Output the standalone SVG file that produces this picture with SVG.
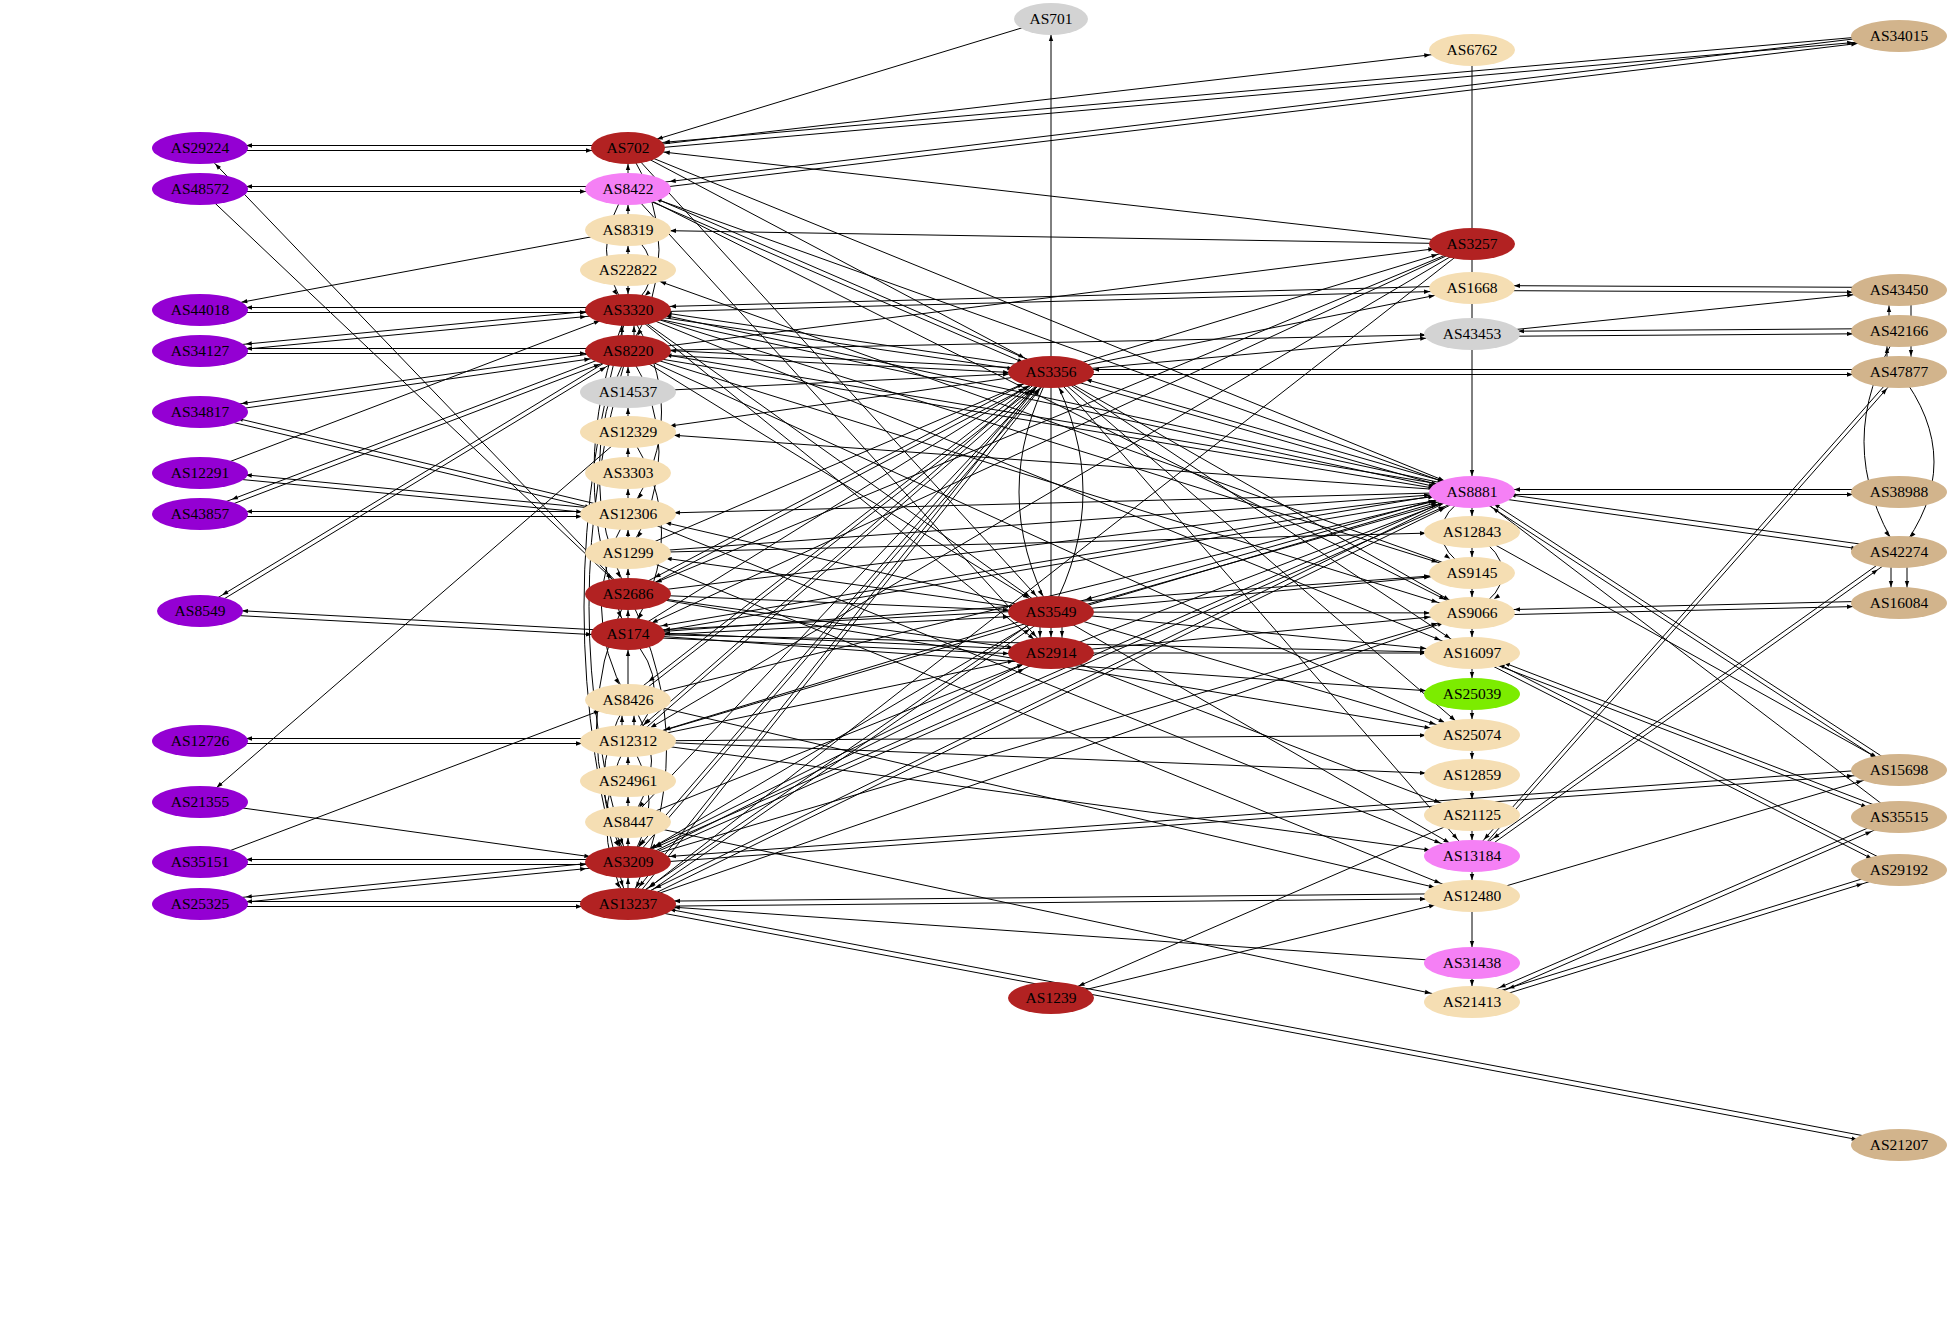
<svg xmlns="http://www.w3.org/2000/svg" width="1950" height="1338" viewBox="0 0 1950 1338">
<style>
.e line,.e path{fill:none;stroke:#000;stroke-width:1}
.m16{marker-end:url(#m16)}.m18{marker-end:url(#m18)}.m22{marker-end:url(#m22)}.m26{marker-end:url(#m26)}.m30{marker-end:url(#m30)}.m34{marker-end:url(#m34)}.m36{marker-end:url(#m36)}.m38{marker-end:url(#m38)}.m42{marker-end:url(#m42)}.m46{marker-end:url(#m46)}
.n text{font-family:"Liberation Serif","Times New Roman",serif;font-size:15.5px;text-anchor:middle;fill:#000}
.red{fill:#B22222}.pur{fill:#9400D3}.pink{fill:#F580F5}.wh{fill:#F5DEB3}.tan{fill:#D2B48C}.gry{fill:#D3D3D3}.grn{fill:#7CEC00}
</style>
<defs>
<marker id="m16" markerUnits="userSpaceOnUse" markerWidth="8" markerHeight="8" refX="22" refY="0" orient="auto" overflow="visible"><path d="M0,-2.2L6,0L0,2.2z" fill="#000"/></marker>
<marker id="m18" markerUnits="userSpaceOnUse" markerWidth="8" markerHeight="8" refX="24" refY="0" orient="auto" overflow="visible"><path d="M0,-2.2L6,0L0,2.2z" fill="#000"/></marker>
<marker id="m22" markerUnits="userSpaceOnUse" markerWidth="8" markerHeight="8" refX="28" refY="0" orient="auto" overflow="visible"><path d="M0,-2.2L6,0L0,2.2z" fill="#000"/></marker>
<marker id="m26" markerUnits="userSpaceOnUse" markerWidth="8" markerHeight="8" refX="32" refY="0" orient="auto" overflow="visible"><path d="M0,-2.2L6,0L0,2.2z" fill="#000"/></marker>
<marker id="m30" markerUnits="userSpaceOnUse" markerWidth="8" markerHeight="8" refX="36" refY="0" orient="auto" overflow="visible"><path d="M0,-2.2L6,0L0,2.2z" fill="#000"/></marker>
<marker id="m34" markerUnits="userSpaceOnUse" markerWidth="8" markerHeight="8" refX="40" refY="0" orient="auto" overflow="visible"><path d="M0,-2.2L6,0L0,2.2z" fill="#000"/></marker>
<marker id="m36" markerUnits="userSpaceOnUse" markerWidth="8" markerHeight="8" refX="42" refY="0" orient="auto" overflow="visible"><path d="M0,-2.2L6,0L0,2.2z" fill="#000"/></marker>
<marker id="m38" markerUnits="userSpaceOnUse" markerWidth="8" markerHeight="8" refX="44" refY="0" orient="auto" overflow="visible"><path d="M0,-2.2L6,0L0,2.2z" fill="#000"/></marker>
<marker id="m42" markerUnits="userSpaceOnUse" markerWidth="8" markerHeight="8" refX="48" refY="0" orient="auto" overflow="visible"><path d="M0,-2.2L6,0L0,2.2z" fill="#000"/></marker>
<marker id="m46" markerUnits="userSpaceOnUse" markerWidth="8" markerHeight="8" refX="52" refY="0" orient="auto" overflow="visible"><path d="M0,-2.2L6,0L0,2.2z" fill="#000"/></marker>
</defs>
<rect width="1950" height="1338" fill="#fff"/>
<g id="edges" class="e">
<line x1="628" y1="145.5" x2="200" y2="145.5" class="m46"/><line x1="200" y1="150.5" x2="628" y2="150.5" class="m36"/>
<line x1="628" y1="186.5" x2="200" y2="186.5" class="m46"/><line x1="200" y1="191.5" x2="628" y2="191.5" class="m42"/>
<line x1="628" y1="594" x2="200" y2="148" class="m22"/>
<line x1="200" y1="189" x2="628" y2="594" class="m22"/>
<line x1="628" y1="307.5" x2="200" y2="307.5" class="m46"/><line x1="200" y1="312.5" x2="628" y2="312.5" class="m42"/>
<line x1="628" y1="230" x2="200" y2="310" class="m42"/>
<line x1="628" y1="307.5" x2="200" y2="348.5" class="m46"/><line x1="200" y1="353.5" x2="628" y2="312.5" class="m42"/>
<line x1="628" y1="348.5" x2="200" y2="348.5" class="m46"/><line x1="200" y1="353.5" x2="628" y2="353.5" class="m42"/>
<line x1="628" y1="348.5" x2="200" y2="409.5" class="m42"/><line x1="200" y1="414.5" x2="628" y2="353.5" class="m38"/>
<line x1="628" y1="511.5" x2="200" y2="409.5" class="m38"/><line x1="200" y1="414.5" x2="628" y2="516.5" class="m38"/>
<line x1="628" y1="511.5" x2="200" y2="470.5" class="m46"/><line x1="200" y1="475.5" x2="628" y2="516.5" class="m46"/>
<line x1="200" y1="473" x2="628" y2="310" class="m30"/>
<line x1="628" y1="511.5" x2="200" y2="511.5" class="m46"/><line x1="200" y1="516.5" x2="628" y2="516.5" class="m46"/>
<line x1="628" y1="348.5" x2="200" y2="511.5" class="m34"/><line x1="200" y1="516.5" x2="628" y2="353.5" class="m30"/>
<line x1="628" y1="631.5" x2="200" y2="608.5" class="m42"/><line x1="200" y1="613.5" x2="628" y2="636.5" class="m36"/>
<line x1="628" y1="348.5" x2="200" y2="608.5" class="m26"/><line x1="200" y1="613.5" x2="628" y2="353.5" class="m26"/>
<line x1="628" y1="738.5" x2="200" y2="738.5" class="m46"/><line x1="200" y1="743.5" x2="628" y2="743.5" class="m46"/>
<line x1="628" y1="432" x2="200" y2="802" class="m22"/>
<line x1="200" y1="802" x2="628" y2="862" class="m38"/>
<line x1="628" y1="859.5" x2="200" y2="859.5" class="m46"/><line x1="200" y1="864.5" x2="628" y2="864.5" class="m42"/>
<line x1="200" y1="862" x2="628" y2="700" class="m30"/>
<line x1="628" y1="859.5" x2="200" y2="901.5" class="m46"/><line x1="200" y1="906.5" x2="628" y2="864.5" class="m42"/>
<line x1="628" y1="901.5" x2="200" y2="901.5" class="m46"/><line x1="200" y1="906.5" x2="628" y2="906.5" class="m46"/>
<line x1="1051" y1="19" x2="628" y2="148" class="m30"/>
<line x1="1051" y1="612" x2="1051" y2="19" class="m16"/>
<line x1="628" y1="148" x2="1472" y2="50" class="m42"/>
<line x1="1899" y1="33.5" x2="628" y2="145.5" class="m36"/><line x1="628" y1="150.5" x2="1899" y2="38.5" class="m46"/>
<line x1="1899" y1="33.5" x2="628" y2="186.5" class="m42"/><line x1="628" y1="191.5" x2="1899" y2="38.5" class="m42"/>
<line x1="1472" y1="244" x2="628" y2="148" class="m36"/>
<line x1="1472" y1="244" x2="628" y2="230" class="m42"/>
<line x1="628" y1="351" x2="1472" y2="244" class="m38"/>
<line x1="1472" y1="50" x2="1472" y2="492" class="m16"/>
<line x1="1472" y1="244" x2="628" y2="594" class="m30"/>
<line x1="1472" y1="244" x2="628" y2="741" class="m26"/>
<line x1="1472" y1="244" x2="628" y2="904" class="m26"/>
<line x1="1472" y1="244" x2="628" y2="634" class="m26"/>
<line x1="1051" y1="372" x2="1472" y2="244" class="m36"/>
<line x1="628" y1="148" x2="1051" y2="372" class="m30"/>
<line x1="1051" y1="369.5" x2="628" y2="186.5" class="m30"/><line x1="628" y1="191.5" x2="1051" y2="374.5" class="m30"/>
<line x1="1051" y1="369.5" x2="628" y2="307.5" class="m38"/><line x1="628" y1="312.5" x2="1051" y2="374.5" class="m38"/>
<line x1="1051" y1="369.5" x2="628" y2="348.5" class="m42"/><line x1="628" y1="353.5" x2="1051" y2="374.5" class="m42"/>
<line x1="628" y1="392" x2="1051" y2="372" class="m42"/>
<line x1="1051" y1="372" x2="628" y2="432" class="m42"/>
<line x1="628" y1="553" x2="1051" y2="372" class="m30"/>
<line x1="1051" y1="369.5" x2="628" y2="591.5" class="m30"/><line x1="628" y1="596.5" x2="1051" y2="374.5" class="m30"/>
<line x1="628" y1="634" x2="1051" y2="372" class="m26"/>
<line x1="1051" y1="369.5" x2="628" y2="697.5" class="m26"/><line x1="628" y1="702.5" x2="1051" y2="374.5" class="m26"/>
<line x1="1051" y1="369.5" x2="628" y2="738.5" class="m22"/><line x1="628" y1="743.5" x2="1051" y2="374.5" class="m22"/>
<line x1="628" y1="822" x2="1051" y2="372" class="m22"/>
<line x1="1048.5" y1="372" x2="625.5" y2="862" class="m22"/><line x1="630.5" y1="862" x2="1053.5" y2="372" class="m22"/>
<line x1="1048.5" y1="372" x2="625.5" y2="904" class="m22"/><line x1="630.5" y1="904" x2="1053.5" y2="372" class="m22"/>
<line x1="1899" y1="369.5" x2="1051" y2="369.5" class="m42"/><line x1="1051" y1="374.5" x2="1899" y2="374.5" class="m46"/>
<line x1="1051" y1="372" x2="1472" y2="288" class="m38"/>
<line x1="1051" y1="372" x2="1472" y2="334" class="m46"/>
<line x1="1472" y1="489.5" x2="1051" y2="369.5" class="m36"/><line x1="1051" y1="374.5" x2="1472" y2="494.5" class="m36"/>
<line x1="1051" y1="372" x2="1472" y2="613" class="m26"/>
<line x1="1051" y1="372" x2="1472" y2="653" class="m26"/>
<line x1="1051" y1="372" x2="1472" y2="735" class="m22"/>
<line x1="1051" y1="372" x2="1472" y2="856" class="m22"/>
<path d="M1051,372 Q987,492 1051,612" class="m18"/><path d="M1051,612 Q1115,492 1051,372" class="m18"/>
<line x1="628" y1="189" x2="1472" y2="492" class="m30"/>
<line x1="1472" y1="489.5" x2="628" y2="307.5" class="m38"/><line x1="628" y1="312.5" x2="1472" y2="494.5" class="m38"/>
<line x1="1472" y1="489.5" x2="628" y2="348.5" class="m38"/><line x1="628" y1="353.5" x2="1472" y2="494.5" class="m38"/>
<line x1="1472" y1="492" x2="628" y2="432" class="m46"/>
<line x1="1472" y1="492" x2="628" y2="514" class="m46"/>
<line x1="628" y1="553" x2="1472" y2="492" class="m42"/>
<line x1="628" y1="594" x2="1472" y2="492" class="m38"/>
<line x1="1472" y1="489.5" x2="628" y2="631.5" class="m34"/><line x1="628" y1="636.5" x2="1472" y2="494.5" class="m38"/>
<line x1="1472" y1="489.5" x2="1051" y2="609.5" class="m36"/><line x1="1051" y1="614.5" x2="1472" y2="494.5" class="m36"/>
<line x1="1051" y1="653" x2="1472" y2="492" class="m30"/>
<line x1="628" y1="700" x2="1472" y2="492" class="m36"/>
<line x1="628" y1="741" x2="1472" y2="492" class="m36"/>
<line x1="1472" y1="489.5" x2="628" y2="859.5" class="m30"/><line x1="628" y1="864.5" x2="1472" y2="494.5" class="m30"/>
<line x1="1472" y1="489.5" x2="628" y2="901.5" class="m30"/><line x1="628" y1="906.5" x2="1472" y2="494.5" class="m30"/>
<line x1="1899" y1="489.5" x2="1472" y2="489.5" class="m42"/><line x1="1472" y1="494.5" x2="1899" y2="494.5" class="m46"/>
<line x1="1899" y1="549.5" x2="1472" y2="489.5" class="m38"/><line x1="1472" y1="494.5" x2="1899" y2="554.5" class="m42"/>
<line x1="1899" y1="767.5" x2="1472" y2="489.5" class="m26"/><line x1="1472" y1="494.5" x2="1899" y2="772.5" class="m26"/>
<line x1="628" y1="148" x2="1472" y2="492" class="m30"/>
<line x1="1899" y1="817" x2="1472" y2="492" class="m26"/>
<line x1="1472" y1="492" x2="1472" y2="532" class="m16"/>
<line x1="1472" y1="532" x2="1472" y2="573" class="m16"/>
<line x1="1472" y1="573" x2="1472" y2="613" class="m16"/>
<line x1="1472" y1="613" x2="1472" y2="653" class="m16"/>
<line x1="1472" y1="653" x2="1472" y2="694" class="m16"/>
<line x1="1472" y1="694" x2="1472" y2="735" class="m16"/>
<line x1="1472" y1="735" x2="1472" y2="775" class="m16"/>
<line x1="1472" y1="775" x2="1472" y2="815" class="m16"/>
<line x1="1472" y1="815" x2="1472" y2="856" class="m16"/>
<line x1="1472" y1="856" x2="1472" y2="896" class="m16"/>
<line x1="1472" y1="896" x2="1472" y2="963" class="m16"/>
<line x1="1472" y1="963" x2="1472" y2="1002" class="m16"/>
<path d="M1472,492 Q1410,532 1472,573" class="m26"/>
<path d="M1472,532 Q1534,573 1472,613" class="m26"/>
<line x1="628" y1="189" x2="628" y2="148" class="m16"/>
<line x1="628" y1="230" x2="628" y2="189" class="m16"/>
<line x1="628" y1="270" x2="628" y2="230" class="m16"/>
<line x1="628" y1="270" x2="628" y2="310" class="m16"/>
<line x1="622" y1="351" x2="622" y2="310" class="m16"/>
<line x1="634" y1="351" x2="634" y2="310" class="m16"/>
<line x1="628" y1="392" x2="628" y2="351" class="m16"/>
<line x1="628" y1="432" x2="628" y2="392" class="m16"/>
<line x1="628" y1="473" x2="628" y2="432" class="m16"/>
<line x1="628" y1="514" x2="628" y2="473" class="m16"/>
<line x1="628" y1="553" x2="628" y2="514" class="m16"/>
<line x1="628" y1="594" x2="628" y2="553" class="m16"/>
<line x1="628" y1="634" x2="628" y2="594" class="m16"/>
<line x1="628" y1="700" x2="628" y2="634" class="m16"/>
<line x1="622" y1="741" x2="622" y2="700" class="m16"/>
<line x1="634" y1="741" x2="634" y2="700" class="m16"/>
<line x1="628" y1="781" x2="628" y2="741" class="m16"/>
<line x1="628" y1="822" x2="628" y2="781" class="m16"/>
<line x1="628" y1="862" x2="628" y2="822" class="m16"/>
<line x1="628" y1="904" x2="628" y2="862" class="m16"/>
<path d="M628,189 Q585,250 628,310" class="m18"/>
<path d="M628,310 Q560,472 628,634" class="m18"/>
<path d="M628,351 Q570,472 628,594" class="m18"/>
<path d="M628,351 Q550,606 628,862" class="m18"/>
<path d="M628,310 Q540,607 628,904" class="m18"/>
<path d="M628,514 Q575,607 628,700" class="m18"/>
<path d="M628,594 Q565,728 628,862" class="m18"/>
<path d="M628,741 Q585,822 628,904" class="m18"/>
<path d="M628,700 Q580,781 628,862" class="m18"/>
<path d="M628,148 Q690,250 628,351" class="m18"/>
<path d="M628,230 Q675,270 628,310" class="m22"/>
<path d="M628,310 Q695,412 628,514" class="m18"/>
<path d="M628,351 Q690,452 628,553" class="m18"/>
<path d="M628,432 Q695,533 628,634" class="m18"/>
<path d="M628,634 Q680,688 628,741" class="m22"/>
<path d="M628,594 Q705,749 628,904" class="m18"/>
<path d="M628,700 Q675,761 628,822" class="m18"/>
<path d="M628,741 Q670,802 628,862" class="m18"/>
<line x1="1472" y1="285.5" x2="628" y2="307.5" class="m42"/><line x1="628" y1="312.5" x2="1472" y2="290.5" class="m42"/>
<line x1="628" y1="351" x2="1472" y2="334" class="m46"/>
<line x1="628" y1="553" x2="1472" y2="532" class="m46"/>
<line x1="628" y1="310" x2="1472" y2="573" class="m36"/>
<line x1="628" y1="634" x2="1472" y2="573" class="m42"/>
<line x1="628" y1="862" x2="1472" y2="613" class="m36"/>
<line x1="628" y1="904" x2="1472" y2="613" class="m30"/>
<line x1="628" y1="351" x2="1472" y2="613" class="m36"/>
<line x1="628" y1="634" x2="1472" y2="653" class="m46"/>
<line x1="628" y1="634" x2="1472" y2="694" class="m46"/>
<line x1="628" y1="741" x2="1472" y2="735" class="m46"/>
<line x1="628" y1="741" x2="1472" y2="775" class="m46"/>
<line x1="628" y1="741" x2="1472" y2="856" class="m42"/>
<line x1="628" y1="700" x2="1472" y2="896" class="m38"/>
<line x1="1472" y1="893.5" x2="628" y2="901.5" class="m46"/><line x1="628" y1="906.5" x2="1472" y2="898.5" class="m46"/>
<line x1="628" y1="822" x2="1472" y2="1002" class="m42"/>
<line x1="1472" y1="963" x2="628" y2="904" class="m46"/>
<line x1="1899" y1="1142.5" x2="628" y2="901.5" class="m42"/><line x1="628" y1="906.5" x2="1899" y2="1147.5" class="m42"/>
<line x1="1472" y1="815" x2="1051" y2="998" class="m30"/>
<line x1="1051" y1="998" x2="1472" y2="896" class="m38"/>
<line x1="628" y1="148" x2="1051" y2="612" class="m22"/>
<line x1="1051" y1="609.5" x2="628" y2="631.5" class="m36"/><line x1="628" y1="636.5" x2="1051" y2="614.5" class="m42"/>
<line x1="628" y1="594" x2="1051" y2="612" class="m42"/>
<line x1="1051" y1="612" x2="628" y2="514" class="m38"/>
<line x1="1051" y1="612" x2="628" y2="553" class="m38"/>
<line x1="628" y1="351" x2="1051" y2="612" class="m26"/>
<line x1="628" y1="310" x2="1051" y2="612" class="m26"/>
<line x1="1051" y1="612" x2="628" y2="741" class="m38"/>
<line x1="1051" y1="609.5" x2="628" y2="901.5" class="m26"/><line x1="628" y1="906.5" x2="1051" y2="614.5" class="m26"/>
<line x1="1051" y1="612" x2="628" y2="862" class="m26"/>
<line x1="1051" y1="612" x2="1472" y2="573" class="m42"/>
<line x1="1051" y1="612" x2="1472" y2="613" class="m42"/>
<line x1="1051" y1="612" x2="1472" y2="653" class="m46"/>
<line x1="1051" y1="612" x2="1472" y2="735" class="m38"/>
<line x1="1051" y1="612" x2="1472" y2="856" class="m26"/>
<line x1="1051" y1="612" x2="1051" y2="653" class="m16"/>
<line x1="1040" y1="612" x2="1040" y2="653" class="m16"/>
<line x1="1062" y1="612" x2="1062" y2="653" class="m16"/>
<line x1="1051" y1="650.5" x2="628" y2="631.5" class="m36"/><line x1="628" y1="636.5" x2="1051" y2="655.5" class="m42"/>
<line x1="628" y1="594" x2="1051" y2="653" class="m38"/>
<line x1="628" y1="189" x2="1051" y2="653" class="m22"/>
<line x1="628" y1="310" x2="1051" y2="653" class="m22"/>
<line x1="628" y1="741" x2="1051" y2="653" class="m38"/>
<line x1="1051" y1="650.5" x2="628" y2="859.5" class="m30"/><line x1="628" y1="864.5" x2="1051" y2="655.5" class="m30"/>
<line x1="1051" y1="653" x2="1472" y2="613" class="m42"/>
<line x1="1051" y1="653" x2="1472" y2="653" class="m46"/>
<line x1="1051" y1="653" x2="1472" y2="815" class="m34"/>
<line x1="628" y1="822" x2="1051" y2="653" class="m30"/>
<line x1="1899" y1="287.5" x2="1472" y2="285.5" class="m42"/><line x1="1472" y1="290.5" x2="1899" y2="292.5" class="m46"/>
<line x1="1472" y1="334" x2="1899" y2="290" class="m46"/>
<line x1="1899" y1="328.5" x2="1472" y2="331.5" class="m46"/><line x1="1472" y1="336.5" x2="1899" y2="333.5" class="m46"/>
<line x1="1889" y1="331" x2="1889" y2="290" class="m16"/>
<line x1="1887" y1="372" x2="1887" y2="331" class="m16"/>
<line x1="1911" y1="290" x2="1911" y2="372" class="m16"/>
<path d="M1899,331 Q1829,442 1899,552" class="m18"/>
<path d="M1899,372 Q1969,462 1899,552" class="m18"/>
<line x1="1891" y1="552" x2="1891" y2="603" class="m16"/>
<line x1="1907" y1="552" x2="1907" y2="603" class="m16"/>
<line x1="1899" y1="600.5" x2="1472" y2="610.5" class="m42"/><line x1="1472" y1="615.5" x2="1899" y2="605.5" class="m46"/>
<line x1="1899" y1="814.5" x2="1472" y2="650.5" class="m34"/><line x1="1472" y1="655.5" x2="1899" y2="819.5" class="m34"/>
<line x1="1899" y1="867.5" x2="1472" y2="650.5" class="m30"/><line x1="1472" y1="655.5" x2="1899" y2="872.5" class="m30"/>
<line x1="1472" y1="532" x2="1899" y2="770" class="m26"/>
<line x1="1472" y1="896" x2="1899" y2="770" class="m38"/>
<line x1="1899" y1="814.5" x2="1472" y2="999.5" class="m30"/><line x1="1472" y1="1004.5" x2="1899" y2="819.5" class="m30"/>
<line x1="1899" y1="867.5" x2="1472" y2="999.5" class="m38"/><line x1="1472" y1="1004.5" x2="1899" y2="872.5" class="m38"/>
<line x1="1896.5" y1="372" x2="1469.5" y2="856" class="m22"/><line x1="1474.5" y1="856" x2="1901.5" y2="372" class="m22"/>
<line x1="1899" y1="549.5" x2="1472" y2="853.5" class="m26"/><line x1="1472" y1="858.5" x2="1899" y2="554.5" class="m26"/>
<line x1="1899" y1="767.5" x2="628" y2="859.5" class="m42"/><line x1="628" y1="864.5" x2="1899" y2="772.5" class="m46"/>
<line x1="628" y1="189" x2="1472" y2="613" class="m30"/>
<line x1="628" y1="310" x2="1472" y2="653" class="m34"/>
<line x1="628" y1="351" x2="1472" y2="735" class="m30"/>
<line x1="1472" y1="573" x2="628" y2="270" class="m34"/>
<line x1="628" y1="594" x2="1472" y2="735" class="m42"/>
<line x1="628" y1="514" x2="1472" y2="856" class="m34"/>
<line x1="628" y1="553" x2="1472" y2="896" class="m34"/>
</g>
<g id="AS29224" class="n"><ellipse cx="200" cy="148" rx="48" ry="16" class="pur"/><text x="200" y="153">AS29224</text></g>
<g id="AS48572" class="n"><ellipse cx="200" cy="189" rx="48" ry="16" class="pur"/><text x="200" y="194">AS48572</text></g>
<g id="AS44018" class="n"><ellipse cx="200" cy="310" rx="48" ry="16" class="pur"/><text x="200" y="315">AS44018</text></g>
<g id="AS34127" class="n"><ellipse cx="200" cy="351" rx="48" ry="16" class="pur"/><text x="200" y="356">AS34127</text></g>
<g id="AS34817" class="n"><ellipse cx="200" cy="412" rx="48" ry="16" class="pur"/><text x="200" y="417">AS34817</text></g>
<g id="AS12291" class="n"><ellipse cx="200" cy="473" rx="48" ry="16" class="pur"/><text x="200" y="478">AS12291</text></g>
<g id="AS43857" class="n"><ellipse cx="200" cy="514" rx="48" ry="16" class="pur"/><text x="200" y="519">AS43857</text></g>
<g id="AS8549" class="n"><ellipse cx="200" cy="611" rx="43" ry="16" class="pur"/><text x="200" y="616">AS8549</text></g>
<g id="AS12726" class="n"><ellipse cx="200" cy="741" rx="48" ry="16" class="pur"/><text x="200" y="746">AS12726</text></g>
<g id="AS21355" class="n"><ellipse cx="200" cy="802" rx="48" ry="16" class="pur"/><text x="200" y="807">AS21355</text></g>
<g id="AS35151" class="n"><ellipse cx="200" cy="862" rx="48" ry="16" class="pur"/><text x="200" y="867">AS35151</text></g>
<g id="AS25325" class="n"><ellipse cx="200" cy="904" rx="48" ry="16" class="pur"/><text x="200" y="909">AS25325</text></g>
<g id="AS702" class="n"><ellipse cx="628" cy="148" rx="37" ry="16" class="red"/><text x="628" y="153">AS702</text></g>
<g id="AS8422" class="n"><ellipse cx="628" cy="189" rx="43" ry="16" class="pink"/><text x="628" y="194">AS8422</text></g>
<g id="AS8319" class="n"><ellipse cx="628" cy="230" rx="43" ry="16" class="wh"/><text x="628" y="235">AS8319</text></g>
<g id="AS22822" class="n"><ellipse cx="628" cy="270" rx="48" ry="16" class="wh"/><text x="628" y="275">AS22822</text></g>
<g id="AS3320" class="n"><ellipse cx="628" cy="310" rx="43" ry="16" class="red"/><text x="628" y="315">AS3320</text></g>
<g id="AS8220" class="n"><ellipse cx="628" cy="351" rx="43" ry="16" class="red"/><text x="628" y="356">AS8220</text></g>
<g id="AS14537" class="n"><ellipse cx="628" cy="392" rx="48" ry="16" class="gry"/><text x="628" y="397">AS14537</text></g>
<g id="AS12329" class="n"><ellipse cx="628" cy="432" rx="48" ry="16" class="wh"/><text x="628" y="437">AS12329</text></g>
<g id="AS3303" class="n"><ellipse cx="628" cy="473" rx="43" ry="16" class="wh"/><text x="628" y="478">AS3303</text></g>
<g id="AS12306" class="n"><ellipse cx="628" cy="514" rx="48" ry="16" class="wh"/><text x="628" y="519">AS12306</text></g>
<g id="AS1299" class="n"><ellipse cx="628" cy="553" rx="43" ry="16" class="wh"/><text x="628" y="558">AS1299</text></g>
<g id="AS2686" class="n"><ellipse cx="628" cy="594" rx="43" ry="16" class="red"/><text x="628" y="599">AS2686</text></g>
<g id="AS174" class="n"><ellipse cx="628" cy="634" rx="37" ry="16" class="red"/><text x="628" y="639">AS174</text></g>
<g id="AS8426" class="n"><ellipse cx="628" cy="700" rx="43" ry="16" class="wh"/><text x="628" y="705">AS8426</text></g>
<g id="AS12312" class="n"><ellipse cx="628" cy="741" rx="48" ry="16" class="wh"/><text x="628" y="746">AS12312</text></g>
<g id="AS24961" class="n"><ellipse cx="628" cy="781" rx="48" ry="16" class="wh"/><text x="628" y="786">AS24961</text></g>
<g id="AS8447" class="n"><ellipse cx="628" cy="822" rx="43" ry="16" class="wh"/><text x="628" y="827">AS8447</text></g>
<g id="AS3209" class="n"><ellipse cx="628" cy="862" rx="43" ry="16" class="red"/><text x="628" y="867">AS3209</text></g>
<g id="AS13237" class="n"><ellipse cx="628" cy="904" rx="48" ry="16" class="red"/><text x="628" y="909">AS13237</text></g>
<g id="AS701" class="n"><ellipse cx="1051" cy="19" rx="37" ry="16" class="gry"/><text x="1051" y="24">AS701</text></g>
<g id="AS3356" class="n"><ellipse cx="1051" cy="372" rx="43" ry="16" class="red"/><text x="1051" y="377">AS3356</text></g>
<g id="AS3549" class="n"><ellipse cx="1051" cy="612" rx="43" ry="16" class="red"/><text x="1051" y="617">AS3549</text></g>
<g id="AS2914" class="n"><ellipse cx="1051" cy="653" rx="43" ry="16" class="red"/><text x="1051" y="658">AS2914</text></g>
<g id="AS1239" class="n"><ellipse cx="1051" cy="998" rx="43" ry="16" class="red"/><text x="1051" y="1003">AS1239</text></g>
<g id="AS6762" class="n"><ellipse cx="1472" cy="50" rx="43" ry="16" class="wh"/><text x="1472" y="55">AS6762</text></g>
<g id="AS3257" class="n"><ellipse cx="1472" cy="244" rx="43" ry="16" class="red"/><text x="1472" y="249">AS3257</text></g>
<g id="AS1668" class="n"><ellipse cx="1472" cy="288" rx="43" ry="16" class="wh"/><text x="1472" y="293">AS1668</text></g>
<g id="AS43453" class="n"><ellipse cx="1472" cy="334" rx="48" ry="16" class="gry"/><text x="1472" y="339">AS43453</text></g>
<g id="AS8881" class="n"><ellipse cx="1472" cy="492" rx="43" ry="16" class="pink"/><text x="1472" y="497">AS8881</text></g>
<g id="AS12843" class="n"><ellipse cx="1472" cy="532" rx="48" ry="16" class="wh"/><text x="1472" y="537">AS12843</text></g>
<g id="AS9145" class="n"><ellipse cx="1472" cy="573" rx="43" ry="16" class="wh"/><text x="1472" y="578">AS9145</text></g>
<g id="AS9066" class="n"><ellipse cx="1472" cy="613" rx="43" ry="16" class="wh"/><text x="1472" y="618">AS9066</text></g>
<g id="AS16097" class="n"><ellipse cx="1472" cy="653" rx="48" ry="16" class="wh"/><text x="1472" y="658">AS16097</text></g>
<g id="AS25039" class="n"><ellipse cx="1472" cy="694" rx="48" ry="16" class="grn"/><text x="1472" y="699">AS25039</text></g>
<g id="AS25074" class="n"><ellipse cx="1472" cy="735" rx="48" ry="16" class="wh"/><text x="1472" y="740">AS25074</text></g>
<g id="AS12859" class="n"><ellipse cx="1472" cy="775" rx="48" ry="16" class="wh"/><text x="1472" y="780">AS12859</text></g>
<g id="AS21125" class="n"><ellipse cx="1472" cy="815" rx="48" ry="16" class="wh"/><text x="1472" y="820">AS21125</text></g>
<g id="AS13184" class="n"><ellipse cx="1472" cy="856" rx="48" ry="16" class="pink"/><text x="1472" y="861">AS13184</text></g>
<g id="AS12480" class="n"><ellipse cx="1472" cy="896" rx="48" ry="16" class="wh"/><text x="1472" y="901">AS12480</text></g>
<g id="AS31438" class="n"><ellipse cx="1472" cy="963" rx="48" ry="16" class="pink"/><text x="1472" y="968">AS31438</text></g>
<g id="AS21413" class="n"><ellipse cx="1472" cy="1002" rx="48" ry="16" class="wh"/><text x="1472" y="1007">AS21413</text></g>
<g id="AS34015" class="n"><ellipse cx="1899" cy="36" rx="48" ry="16" class="tan"/><text x="1899" y="41">AS34015</text></g>
<g id="AS43450" class="n"><ellipse cx="1899" cy="290" rx="48" ry="16" class="tan"/><text x="1899" y="295">AS43450</text></g>
<g id="AS42166" class="n"><ellipse cx="1899" cy="331" rx="48" ry="16" class="tan"/><text x="1899" y="336">AS42166</text></g>
<g id="AS47877" class="n"><ellipse cx="1899" cy="372" rx="48" ry="16" class="tan"/><text x="1899" y="377">AS47877</text></g>
<g id="AS38988" class="n"><ellipse cx="1899" cy="492" rx="48" ry="16" class="tan"/><text x="1899" y="497">AS38988</text></g>
<g id="AS42274" class="n"><ellipse cx="1899" cy="552" rx="48" ry="16" class="tan"/><text x="1899" y="557">AS42274</text></g>
<g id="AS16084" class="n"><ellipse cx="1899" cy="603" rx="48" ry="16" class="tan"/><text x="1899" y="608">AS16084</text></g>
<g id="AS15698" class="n"><ellipse cx="1899" cy="770" rx="48" ry="16" class="tan"/><text x="1899" y="775">AS15698</text></g>
<g id="AS35515" class="n"><ellipse cx="1899" cy="817" rx="48" ry="16" class="tan"/><text x="1899" y="822">AS35515</text></g>
<g id="AS29192" class="n"><ellipse cx="1899" cy="870" rx="48" ry="16" class="tan"/><text x="1899" y="875">AS29192</text></g>
<g id="AS21207" class="n"><ellipse cx="1899" cy="1145" rx="48" ry="16" class="tan"/><text x="1899" y="1150">AS21207</text></g>
</svg>
